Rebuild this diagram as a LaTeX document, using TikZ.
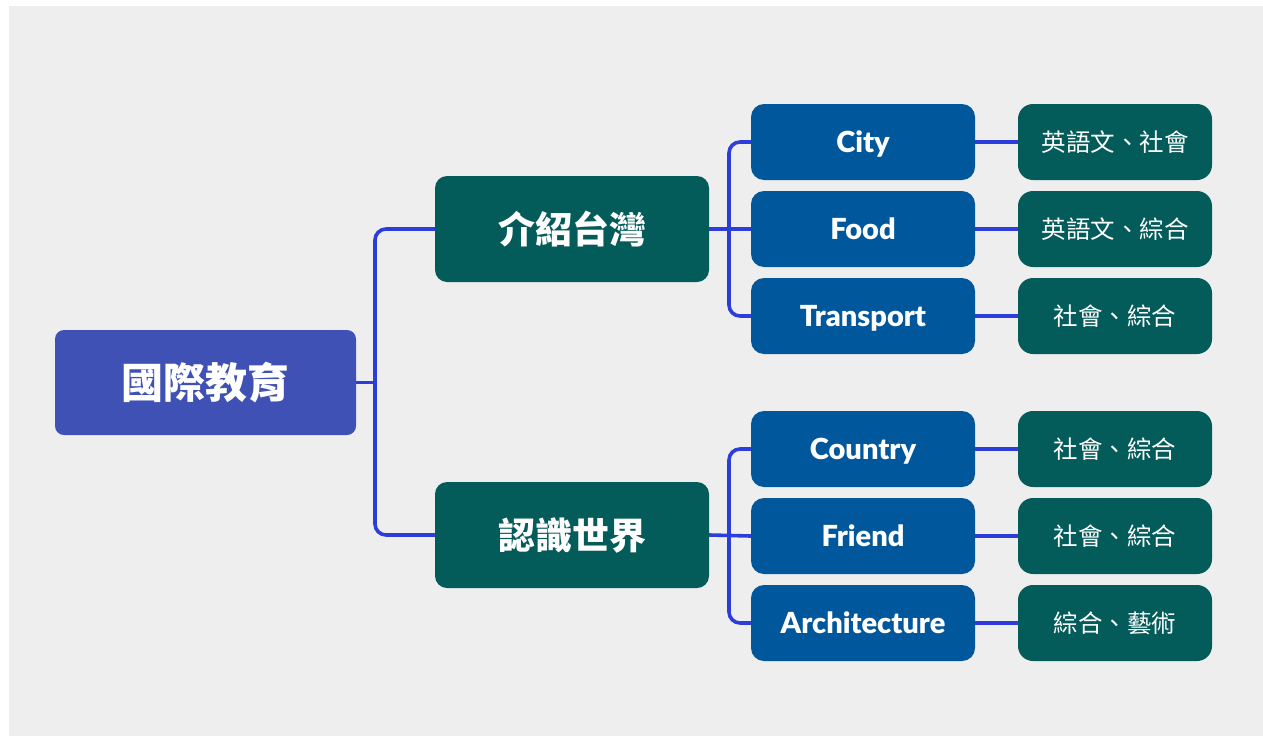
\documentclass[tikz,border=0pt]{standalone}
\usepackage{fontspec}
\setmainfont{Lato}
\newfontfamily\engb{Lato Black}
\newfontfamily\cjk{Noto Sans CJK TC}
\definecolor{bgc}{HTML}{EEEEEE}
\definecolor{rootc}{HTML}{3F51B5}
\definecolor{tealc}{HTML}{035B5A}
\definecolor{bluec}{HTML}{01579B}
\definecolor{linec}{HTML}{2D3DDB}
\tikzset{
  box/.style={inner sep=0pt, text=white, align=center},
  rootbox/.style={box, fill=rootc, rounded corners=9pt, minimum width=301pt, minimum height=105pt, font=\cjk\bfseries\fontsize{42}{46}\selectfont},
  midbox/.style={box, fill=tealc, rounded corners=12pt, minimum width=274pt, minimum height=106pt, font=\cjk\bfseries\fontsize{37}{42}\selectfont},
  topicbox/.style={box, fill=bluec, rounded corners=13pt, minimum width=224pt, minimum height=76pt, text height=20.5pt, text depth=0pt, font=\engb\fontsize{29}{32}\selectfont},
  subjbox/.style={box, fill=tealc, rounded corners=15pt, minimum width=194pt, minimum height=76pt, font=\cjk\fontsize{24.5}{28}\selectfont},
  conn/.style={draw=linec, line width=3.6pt, rounded corners=11pt},
}
\begin{document}
\begin{tikzpicture}[x=1pt,y=-1pt]
\fill[white] (0,0) rectangle (1263,736);
\fill[bgc] (9,6) rectangle (1263,736);
\useasboundingbox (0,0) rectangle (1263,736);

\node[rootbox] (root) at (205.5,382.5) {國際教育};
\node[midbox] (t1) at (572,229) {介紹台灣};
\node[midbox] (t2) at (572,535) {認識世界};

\node[topicbox] (city) at (863,142) {City};
\node[topicbox] (food) at (863,229) {Food};
\node[topicbox] (transport) at (863,316) {Transport};
\node[topicbox] (country) at (863,449) {Country};
\node[topicbox] (friend) at (863,536) {Friend};
\node[topicbox] (arch) at (863,623) {Architecture};

\node[subjbox] (s1) at (1115,142) {英語文、社會};
\node[subjbox] (s2) at (1115,229) {英語文、綜合};
\node[subjbox] (s3) at (1115,316) {社會、綜合};
\node[subjbox] (s4) at (1115,449) {社會、綜合};
\node[subjbox] (s5) at (1115,536) {社會、綜合};
\node[subjbox] (s6) at (1115,623) {綜合、藝術};

\coordinate (j1) at (375,382.5);
\coordinate (j2) at (729,229);
\coordinate (j3) at (729,535.5);

\draw[conn] (root.east) -- (j1);
\draw[conn] (t1.west) -| (j1) |- (t2.west);
\draw[conn] (t1.east) -- (food.west);
\draw[conn] (city.west) -| (j2) |- (transport.west);
\draw[conn] (t2.east) -- (friend.west);
\draw[conn] (country.west) -| (j3) |- (arch.west);
\draw[conn] (city.east) -- (s1.west);
\draw[conn] (food.east) -- (s2.west);
\draw[conn] (transport.east) -- (s3.west);
\draw[conn] (country.east) -- (s4.west);
\draw[conn] (friend.east) -- (s5.west);
\draw[conn] (arch.east) -- (s6.west);
\end{tikzpicture}
\end{document}
